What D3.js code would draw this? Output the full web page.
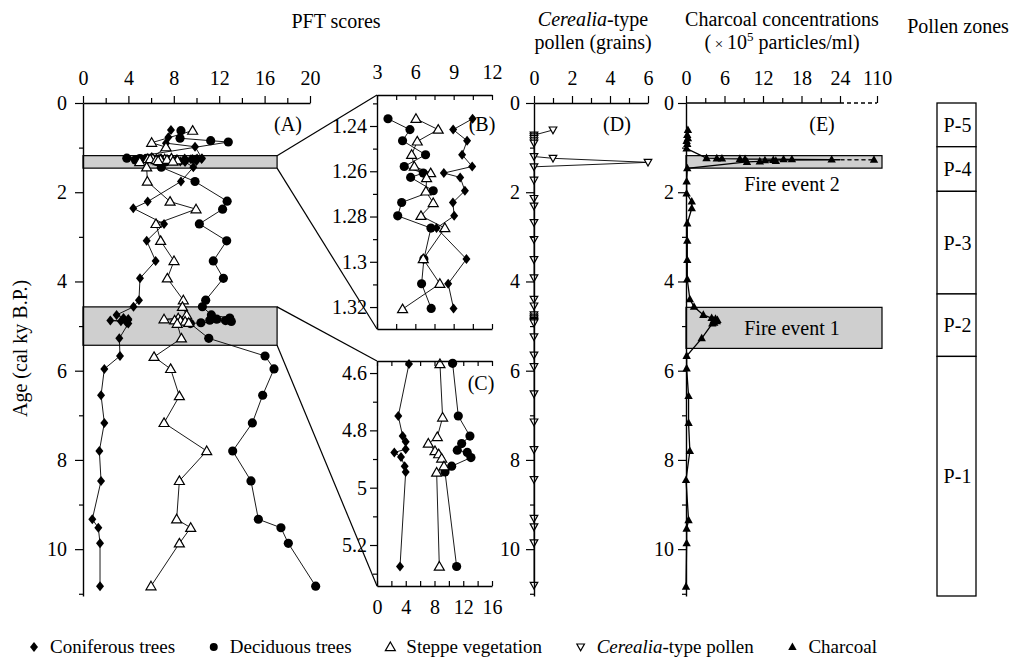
<!DOCTYPE html>
<html>
<head>
<meta charset="utf-8">
<script src="https://cdn.jsdelivr.net/npm/d3@7/dist/d3.min.js"></script>
<style>
  body { margin: 0; background: #fff; }
  svg text { font-family: "Liberation Serif", "Times New Roman", Times, serif; fill: #000; }
</style>
</head>
<body>
<svg id="chart" width="1018" height="670"></svg>
<script>
// ---- data: [age (cal ky B.P.), value] ----
var coniferous = [
  [0.605, 7.75], [0.77, 7.52], [0.90, 7.31], [0.98, 9.87],
  [1.2368, 10.48], [1.2416, 8.96], [1.2465, 10.05], [1.2527, 9.66], [1.2579, 10.45], [1.2608, 8.23],
  [1.2627, 9.51], [1.2686, 9.88], [1.2738, 8.94], [1.2797, 9.04], [1.2851, 7.66], [1.2988, 10.0],
  [1.3097, 8.57], [1.3206, 8.99],
  [1.44, 9.72], [1.76, 8.63], [2.21, 5.7], [2.36, 4.43], [2.71, 7.14], [3.09, 5.61], [3.54, 6.4],
  [3.93, 5.02], [4.42, 4.93],
  [4.5685, 4.45], [4.75, 2.96], [4.82, 3.57], [4.84, 3.99], [4.866, 3.99], [4.877, 2.41], [4.893, 3.34],
  [4.925, 3.85], [4.945, 3.99], [5.275, 3.2],
  [5.67, 3.26], [5.96, 1.88], [6.55, 1.59], [7.17, 1.88], [7.80, 1.44], [8.47, 1.59], [9.33, 0.82],
  [9.52, 1.35], [9.87, 1.5], [10.83, 1.5]
];
var deciduous = [
  [0.62, 8.63], [0.79, 8.55], [0.845, 11.25], [0.875, 12.8],
  [1.2368, 3.86], [1.2416, 5.58], [1.2465, 5.0], [1.2527, 6.8], [1.2579, 5.13], [1.2608, 6.62],
  [1.2627, 5.63], [1.2686, 7.4], [1.2738, 4.93], [1.2797, 4.62], [1.2851, 7.22], [1.2988, 6.67],
  [1.3097, 6.49], [1.3206, 7.24],
  [1.44, 6.9], [1.76, 9.87], [2.2, 12.7], [2.38, 12.3], [2.71, 10.25], [3.09, 12.66], [3.54, 11.48],
  [3.93, 12.37], [4.42, 10.81],
  [4.566, 10.52], [4.75, 11.31], [4.82, 12.93], [4.846, 11.78], [4.869, 11.17], [4.877, 12.56],
  [4.895, 13.07], [4.925, 10.39], [4.945, 9.46], [5.275, 11.08],
  [5.67, 16.04], [5.96, 16.83], [6.55, 15.83], [7.17, 14.92], [7.80, 13.19], [8.47, 14.8], [9.33, 15.45],
  [9.52, 17.44], [9.87, 18.09], [10.83, 20.5]
];
var steppe = [
  [0.62, 9.66], [0.89, 6.05], [0.99, 7.31],
  [1.2368, 6.05], [1.2416, 7.79], [1.2468, 6.15], [1.2527, 5.71], [1.2579, 5.92], [1.2608, 7.2],
  [1.263, 6.88], [1.2689, 6.83], [1.274, 7.4], [1.2797, 6.44], [1.2851, 8.31], [1.2988, 6.62],
  [1.3097, 7.92], [1.3209, 5.0],
  [1.44, 5.61], [1.76, 5.67], [2.21, 7.67], [2.38, 9.96], [2.71, 6.43], [3.09, 6.84], [3.54, 8.02],
  [3.93, 7.43], [4.42, 8.84],
  [4.5685, 8.76], [4.755, 9.13], [4.823, 8.39], [4.846, 7.14], [4.872, 8.07], [4.883, 8.58],
  [4.898, 9.0], [4.925, 9.32], [4.947, 8.3], [5.275, 8.67],
  [5.69, 6.26], [5.96, 7.72], [6.57, 8.49], [7.17, 7.14], [7.80, 10.9], [8.47, 8.49], [9.33, 8.25],
  [9.52, 9.49], [9.87, 8.49], [10.83, 5.99]
];
var cerealia = [
  [0.605, 1], [0.72, 0], [0.76, 0], [0.80, 0], [0.85, 0], [0.90, 0], [1.20, 0], [1.24, 1], [1.33, 6],
  [1.43, 0], [1.73, 0], [2.14, 0], [2.31, 0], [2.68, 0], [3.06, 0], [3.51, 0], [3.92, 0], [4.40, 0],
  [4.55, 0], [4.75, 0], [4.80, 0], [4.84, 0], [4.87, 0], [4.90, 0], [4.93, 0], [5.24, 0], [5.65, 0],
  [5.91, 0], [6.52, 0], [7.15, 0], [7.77, 0], [8.44, 0], [9.31, 0], [9.50, 0], [9.86, 0], [10.81, 0]
];
var charcoal = [
  [0.605, 0.3], [0.72, 0.2], [0.79, 0.3], [0.85, 0.1], [0.92, 0.2], [1.02, 0.1],
  [1.2368, 3.2], [1.2416, 4.8], [1.2465, 5.6], [1.2527, 8.4], [1.2579, 9.2], [1.2608, 15.2],
  [1.2627, 16.5], [1.2686, 22.7], [1.2738, 103], [1.2797, 13.6], [1.2851, 12.3], [1.2988, 14.0],
  [1.3097, 11.5], [1.3206, 9.5],
  [1.465, 0.2], [1.76, 0.1], [2.03, 0.1], [2.21, 0.9], [2.36, 0.9], [2.70, 0.2], [3.09, 0.2],
  [3.52, 0.2], [3.95, 0.2], [4.40, 0.6], [4.5685, 1.25], [4.75, 2.7], [4.82, 4.0], [4.84, 4.6],
  [4.866, 4.9], [4.877, 4.3], [4.893, 4.8], [4.925, 4.4], [4.945, 4.1], [5.275, 2.45], [5.67, 0.1],
  [5.95, 0.1], [6.57, 0.4], [7.17, 0.4], [7.80, 0.6], [8.45, 0.0], [9.35, 0.4], [9.54, 0.1],
  [9.87, 0.1], [10.84, 0.0]
];

// pollen zones (age boundaries, top to bottom) and labels
var zoneBounds = [0, 0.98, 1.98, 4.28, 5.68, 11.05];
var zoneNames = ["P-5", "P-4", "P-3", "P-2", "P-1"];
// zoomed intervals (ages) and fire events
var zoomBands = [[1.18, 1.46], [4.57, 5.43]];
var fireBands = [[1.18, 1.46], [4.58, 5.5]];
var fireNames = ["Fire event 2", "Fire event 1"];

// tick values
var ticksA = [0, 4, 8, 12, 16, 20], minorA = [2, 6, 10, 14, 18];
var ageTicks = [0, 2, 4, 6, 8, 10], ageMinor = [1, 3, 5, 7, 9, 11];
var ticksB = [3, 4.5, 6, 7.5, 9, 10.5, 12];
var ageTicksB = [1.24, 1.26, 1.28, 1.3, 1.32], ageMinorB = [1.23, 1.25, 1.27, 1.29, 1.31];
var ticksC = [0, 2, 4, 6, 8, 10, 12, 14, 16];
var ageTicksC = [4.6, 4.8, 5, 5.2], ageMinorC = [4.7, 4.9, 5.1, 5.3];
var ticksD = [0, 2, 4, 6], minorD = [1, 3, 5];
var ticksE = [0, 6, 12, 18, 24, 110], minorE = [3, 9, 15, 21];

var FONT = '"Liberation Serif", "Times New Roman", Times, serif';
var fmtInt = d3.format("d");
var svg = d3.select("#chart");

// ---- scales ----
var yA = d3.scaleLinear().domain([0, 11.05]).range([103, 596]);
var xA = d3.scaleLinear().domain([0, 20]).range([83, 310]);
var xB = d3.scaleLinear().domain([3, 12]).range([377, 492]);
var yB = d3.scaleLinear().domain([1.2263, 1.3297]).range([95, 329]);
var xC = d3.scaleLinear().domain([0, 16]).range([377, 492]);
var yC = d3.scaleLinear().domain([4.558, 5.343]).range([361, 586]);
var xD = d3.scaleLinear().domain([0, 6]).range([534, 648]);
var xE = d3.scaleLinear().domain([0, 24, 110]).range([686, 840, 877]);

var shapes = {
  diamond: "M0,-5L4,0L0,5L-4,0Z",
  triUp: "M0,-5L5,3.6L-5,3.6Z",
  triDown: "M-3.8,-3L3.8,-3L0,3.8Z",
  triFill: "M0,-4.6L4.2,3L-4.2,3Z"
};

function putAxis(axis, tx, ty, keepDomain) {
  var g = svg.append("g")
      .attr("transform", "translate(" + tx + "," + ty + ")")
      .call(axis)
      .attr("font-family", FONT)
      .attr("font-size", 20);
  g.selectAll(".tick line").attr("stroke-width", 1.2);
  if (keepDomain) g.select("path.domain").attr("stroke-width", 1.4);
  else g.select("path.domain").remove();
  return g;
}

function ageAxis(y, x0, major, minor, pad, fmt) {
  putAxis(d3.axisLeft(y).tickValues(major).tickSize(8).tickPadding(pad).tickSizeOuter(0)
      .tickFormat(fmt || fmtInt), x0, 0, true);
  putAxis(d3.axisLeft(y).tickValues(minor).tickSize(4).tickFormat(""), x0, 0, false);
}

function drawLine(data, x, y) {
  var line = d3.line().x(function(d) { return x(d[1]); }).y(function(d) { return y(d[0]); });
  return svg.append("path").datum(data)
      .attr("d", line)
      .attr("fill", "none")
      .attr("stroke", "#000")
      .attr("stroke-width", 0.9);
}

function drawMarks(data, x, y, shape) {
  var g = svg.append("g");
  var sel = g.selectAll("path").data(data).enter().append("path")
      .attr("transform", function(d) { return "translate(" + x(d[1]) + "," + y(d[0]) + ")"; });
  styleMark(sel, shape);
}

function styleMark(sel, shape) {
  if (shape === "circle") {
    sel.attr("d", d3.symbol().type(d3.symbolCircle).size(66)()).attr("fill", "#000");
  } else {
    sel.attr("d", shapes[shape]);
    if (shape === "triUp" || shape === "triDown") {
      sel.attr("fill", "#fff").attr("stroke", "#000").attr("stroke-width", 1.2);
    } else {
      sel.attr("fill", "#000");
    }
  }
}

var pft = [
  { data: coniferous, shape: "diamond" },
  { data: deciduous, shape: "circle" },
  { data: steppe, shape: "triUp" }
];

function inside(y) {
  var d = y.domain();
  return function(p) { return p[0] >= d[0] && p[0] <= d[1]; };
}

// ---- panel A ----
var bandRight = 17.1;
zoomBands.forEach(function(b) {
  svg.append("rect")
      .attr("x", xA(0)).attr("y", yA(b[0]))
      .attr("width", xA(bandRight) - xA(0)).attr("height", yA(b[1]) - yA(b[0]))
      .attr("fill", "#cfcfcf").attr("stroke", "#000").attr("stroke-width", 1.2);
});

// connectors from zoom bands to panels B and C
var zoomPanels = [[yB, xB], [yC, xC]];
zoomBands.forEach(function(b, i) {
  var yy = zoomPanels[i][0], xx = zoomPanels[i][1];
  [[b[0], yy.range()[0]], [b[1], yy.range()[1]]].forEach(function(p) {
    svg.append("line")
        .attr("x1", xA(bandRight)).attr("y1", yA(p[0]))
        .attr("x2", xx.range()[0]).attr("y2", p[1])
        .attr("stroke", "#000").attr("stroke-width", 1.2);
  });
});

pft.forEach(function(s) { drawLine(s.data, xA, yA); });
pft.forEach(function(s) { drawMarks(s.data, xA, yA, s.shape); });

putAxis(d3.axisTop(xA).tickValues(ticksA).tickSize(7).tickPadding(11).tickSizeOuter(0).tickFormat(fmtInt), 0, yA(0), true);
putAxis(d3.axisTop(xA).tickValues(minorA).tickSize(5).tickFormat(""), 0, yA(0), false);
ageAxis(yA, xA(0), ageTicks, ageMinor, 8);

// ---- panel B ----
pft.forEach(function(s) { drawLine(s.data.filter(inside(yB)), xB, yB); });
pft.forEach(function(s) { drawMarks(s.data.filter(inside(yB)), xB, yB, s.shape); });
putAxis(d3.axisTop(xB).tickValues(ticksB).tickSize(-5).tickPadding(16).tickSizeOuter(0)
    .tickFormat(function(d) { return d % 3 === 0 ? d : ""; }), 0, yB.range()[0], true);
putAxis(d3.axisBottom(xB).tickValues(ticksB).tickSize(-5).tickSizeOuter(0).tickFormat(""), 0, yB.range()[1], true);
putAxis(d3.axisLeft(yB).tickValues(ageTicksB).tickSize(7).tickPadding(3).tickSizeOuter(0)
    .tickFormat(function(d) { return String(+d.toFixed(2)); }), xB.range()[0], 0, true);
putAxis(d3.axisLeft(yB).tickValues(ageMinorB).tickSize(4).tickFormat(""), xB.range()[0], 0, false);

// ---- panel C ----
pft.forEach(function(s) { drawLine(s.data.filter(inside(yC)), xC, yC); });
pft.forEach(function(s) { drawMarks(s.data.filter(inside(yC)), xC, yC, s.shape); });
putAxis(d3.axisTop(xC).tickValues(ticksC).tickSize(-5).tickSizeOuter(0).tickFormat(""), 0, yC.range()[0], true);
putAxis(d3.axisBottom(xC).tickValues(ticksC).tickSize(-5).tickPadding(14).tickSizeOuter(0)
    .tickFormat(function(d) { return d % 4 === 0 ? d : ""; }), 0, yC.range()[1], true);
putAxis(d3.axisLeft(yC).tickValues(ageTicksC).tickSize(7).tickPadding(3).tickSizeOuter(0)
    .tickFormat(function(d) { return String(+d.toFixed(1)); }), xC.range()[0], 0, true);
putAxis(d3.axisLeft(yC).tickValues(ageMinorC).tickSize(4).tickFormat(""), xC.range()[0], 0, false);

// ---- panel D ----
drawLine(cerealia, xD, yA);
drawMarks(cerealia, xD, yA, "triDown");
putAxis(d3.axisTop(xD).tickValues(ticksD).tickSize(7).tickPadding(11).tickSizeOuter(0).tickFormat(fmtInt), 0, yA(0), true);
putAxis(d3.axisTop(xD).tickValues(minorD).tickSize(5).tickFormat(""), 0, yA(0), false);
ageAxis(yA, xD(0), ageTicks, ageMinor, 6);

// ---- panel E ----
fireBands.forEach(function(b) {
  svg.append("rect")
      .attr("x", xE(0)).attr("y", yA(b[0]))
      .attr("width", xE(110) + 5 - xE(0)).attr("height", yA(b[1]) - yA(b[0]))
      .attr("fill", "#cfcfcf").attr("stroke", "#000").attr("stroke-width", 1.2);
});
svg.append("text").attr("x", 792).attr("y", yA(fireBands[0][1]) + 23)
    .attr("text-anchor", "middle").attr("font-size", 20).text(fireNames[0]);
svg.append("text").attr("x", 792).attr("y", (yA(fireBands[1][0]) + yA(fireBands[1][1])) / 2 + 7)
    .attr("text-anchor", "middle").attr("font-size", 20).text(fireNames[1]);

var defs = svg.append("defs");
defs.append("clipPath").attr("id", "solidPart").append("rect")
    .attr("x", 0).attr("y", 0).attr("width", xE(24)).attr("height", 670);
defs.append("clipPath").attr("id", "dashPart").append("rect")
    .attr("x", xE(24)).attr("y", 0).attr("width", 1018 - xE(24)).attr("height", 670);
drawLine(charcoal, xE, yA).attr("clip-path", "url(#solidPart)").attr("stroke-width", 1.3);
drawLine(charcoal, xE, yA).attr("clip-path", "url(#dashPart)").attr("stroke-dasharray", "4,3");
drawMarks(charcoal, xE, yA, "triFill");

putAxis(d3.axisTop(xE).tickValues(ticksE).tickSize(7).tickPadding(11).tickSizeOuter(0).tickFormat(fmtInt), 0, yA(0), false);
putAxis(d3.axisTop(xE).tickValues(minorE).tickSize(5).tickFormat(""), 0, yA(0), false);
svg.append("line").attr("x1", xE(0)).attr("x2", xE(24)).attr("y1", yA(0)).attr("y2", yA(0))
    .attr("stroke", "#000").attr("stroke-width", 1.4);
svg.append("line").attr("x1", xE(24)).attr("x2", xE(110)).attr("y1", yA(0)).attr("y2", yA(0))
    .attr("stroke", "#000").attr("stroke-width", 1.4).attr("stroke-dasharray", "4,3");
ageAxis(yA, xE(0), ageTicks, ageMinor, 4);

// ---- pollen zones ----
var zx0 = 937, zx1 = 976;
zoneNames.forEach(function(name, i) {
  var y0 = yA(zoneBounds[i]), y1 = yA(zoneBounds[i + 1]);
  svg.append("rect").attr("x", zx0).attr("y", y0).attr("width", zx1 - zx0).attr("height", y1 - y0)
      .attr("fill", "#fff").attr("stroke", "#000").attr("stroke-width", 1.3);
  svg.append("text").attr("x", (zx0 + zx1) / 2 + 1).attr("y", (y0 + y1) / 2 + 7)
      .attr("text-anchor", "middle").attr("font-size", 20).text(name);
});

// ---- panel letters ----
[["(A)", 288, 131], ["(B)", 482, 131], ["(C)", 481, 390], ["(D)", 617, 131], ["(E)", 822, 131]]
  .forEach(function(t) {
    svg.append("text").attr("x", t[1]).attr("y", t[2]).attr("text-anchor", "middle")
        .attr("font-size", 20).text(t[0]);
  });

// ---- headers ----
svg.append("text").attr("x", 336).attr("y", 28).attr("text-anchor", "middle")
    .attr("font-size", 20).text("PFT scores");
var h1 = svg.append("text").attr("x", 593).attr("y", 26).attr("text-anchor", "middle").attr("font-size", 20);
h1.append("tspan").attr("font-style", "italic").text("Cerealia");
h1.append("tspan").text("-type");
svg.append("text").attr("x", 593).attr("y", 49).attr("text-anchor", "middle")
    .attr("font-size", 20).text("pollen (grains)");
svg.append("text").attr("x", 782).attr("y", 26).attr("text-anchor", "middle")
    .attr("font-size", 20).text("Charcoal concentrations");
var h2 = svg.append("text").attr("x", 782).attr("y", 49).attr("text-anchor", "middle").attr("font-size", 20);
h2.append("tspan").text("(");
h2.append("tspan").attr("font-size", 15).text(" \u00d7 ");
h2.append("tspan").text("10");
h2.append("tspan").attr("font-size", 13).attr("dy", -8).text("5");
h2.append("tspan").attr("dy", 8).text(" particles/ml)");
svg.append("text").attr("x", 958).attr("y", 33).attr("text-anchor", "middle")
    .attr("font-size", 20).text("Pollen zones");

svg.append("text")
    .attr("transform", "translate(27," + yA(5.5) + ") rotate(-90)")
    .attr("text-anchor", "middle").attr("font-size", 20).text("Age (cal ky B.P.)");

// ---- legend ----
var legendItems = [
  { shape: "diamond", label: [["Coniferous trees", false]] },
  { shape: "circle", label: [["Deciduous trees", false]] },
  { shape: "triUp", label: [["Steppe vegetation", false]] },
  { shape: "triDown", label: [["Cerealia", true], ["-type pollen", false]] },
  { shape: "triFill", label: [["Charcoal", false]] }
];
var legY = 647, legStart = 34, legEnd = 877;
var lg = svg.append("g");
var items = legendItems.map(function(it) {
  var g = lg.append("g");
  var m = g.append("path").attr("transform", "translate(0," + legY + ")");
  styleMark(m, it.shape);
  if (it.shape === "circle") m.attr("d", d3.symbol().type(d3.symbolCircle).size(50)());
  var t = g.append("text").attr("x", 16).attr("y", legY + 6).attr("font-size", 19);
  it.label.forEach(function(p) {
    t.append("tspan").attr("font-style", p[1] ? "italic" : "normal").text(p[0]);
  });
  return { g: g, w: 16 + t.node().getComputedTextLength() };
});
var totalW = d3.sum(items, function(d) { return d.w; });
var gap = (legEnd - legStart - totalW) / (items.length - 1);
var cx = legStart;
items.forEach(function(d) {
  d.g.attr("transform", "translate(" + cx + ",0)");
  cx += d.w + gap;
});
</script>
</body>
</html>
